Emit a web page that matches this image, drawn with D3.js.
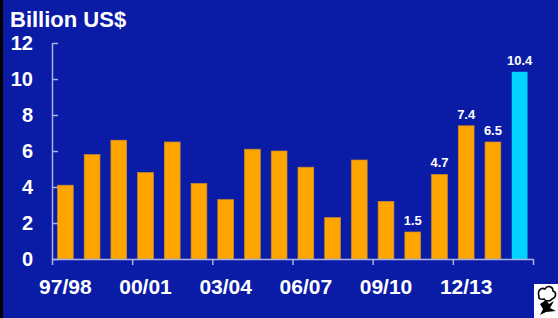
<html>
<head>
  <meta charset="utf-8">
  <title>Billion US$</title>
  <script src="https://d3js.org/d3.v7.min.js"></script>
</head>
<style>
  body { margin: 0; background: #0a1ca6; }
  svg { display: block; }
  text { font-family: 'Liberation Sans', Arial, sans-serif; font-weight: 700; fill: #fff; }
  .axis path, .axis line { stroke: #aab3e3; stroke-width: 1.5; fill: none; }
</style>
<body>
  <div class="chart"></div>
  <script>
    // data
    var seasons = ["97/98","98/99","99/00","00/01","01/02","02/03","03/04","04/05","05/06",
                   "06/07","07/08","08/09","09/10","10/11","11/12","12/13","13/14","14/15"];
    var values = [4.1, 5.8, 6.6, 4.8, 6.5, 4.2, 3.3, 6.1, 6.0, 5.1, 2.3, 5.5, 3.2, 1.5, 4.7, 7.4, 6.5, 10.4];
    var labelled = ["1.5", "4.7", "7.4", "6.5", "10.4"]; // last five bars carry a value label
    var yTicks = [0, 2, 4, 6, 8, 10, 12];
    var xLabels = ["97/98", "00/01", "03/04", "06/07", "09/10", "12/13"];

    var W = 558, H = 318;
    var svg = d3.select('.chart').append('svg')
      .attr('width', W).attr('height', H);

    svg.append("rect").attr("width", W).attr("height", H).attr("fill", "#0a1ca6");
    // black strip down the left edge
    svg.append("rect").attr("width", 3).attr("height", H).attr("fill", "#000");

    var plotLeft = 52, plotRight = 533, plotTop = 43, plotBottom = 259;

    var x = d3.scaleBand().domain(seasons).range([plotLeft, plotRight])
      .paddingInner(0.41).paddingOuter(0.205);
    var xi = d3.scaleLinear().domain([0, seasons.length]).range([plotLeft, plotRight]);
    var y = d3.scaleLinear().domain([0, 12]).range([plotBottom, plotTop]);

    // title
    svg.append("text")
      .attr("x", 10).attr("y", 27)
      .style("font-size", "22px")
      .text("Billion US$");

    // bars
    svg.selectAll(".bar")
      .data(values)
      .enter().append("rect")
        .attr("class", "bar")
        .attr("x", function(d, i) { return x(seasons[i]); })
        .attr("width", x.bandwidth())
        .attr("y", function(d) { return y(d); })
        .attr("height", function(d) { return y(0) - y(d); })
        .attr("fill", function(d, i) { return i == seasons.length - 1 ? "#00d4ff" : "#ffa500"; })
        .attr("stroke", function(d, i) { return i == seasons.length - 1 ? "none" : "#c88a2a"; })
        .attr("stroke-width", 0.7);

    // value labels
    var first = seasons.length - labelled.length;
    svg.selectAll(".val")
      .data(labelled)
      .enter().append("text")
        .attr("class", "val")
        .attr("x", function(d, i) { return x(seasons[first + i]) + x.bandwidth() / 2; })
        .attr("y", function(d, i) { return y(values[first + i]) - 7; })
        .attr("text-anchor", "middle")
        .style("font-size", "13px")
        .text(function(d) { return d; });

    // y axis, ticks pointing inward
    var gy = svg.append("g")
      .attr("class", "axis")
      .attr("transform", "translate(" + plotLeft + ",0)")
      .call(d3.axisLeft(y).tickValues(yTicks).tickSizeInner(-6).tickSizeOuter(0).tickPadding(19));
    gy.selectAll("text")
      .style("font-size", "20px")
      .attr("fill", "#fff");

    // x axis, tick marks between groups of three seasons
    svg.append("g")
      .attr("class", "axis")
      .attr("transform", "translate(0," + plotBottom + ")")
      .call(d3.axisBottom(xi).tickValues(d3.range(0, seasons.length + 1, 3))
        .tickSizeInner(6).tickSizeOuter(0).tickFormat(""));

    svg.selectAll(".xl")
      .data(xLabels)
      .enter().append("text")
        .attr("class", "xl")
        .attr("x", function(d) { return x(d) + x.bandwidth() / 2; })
        .attr("y", 294)
        .attr("text-anchor", "middle")
        .style("font-size", "21px")
        .text(function(d) { return d; });

    // small cotton logo, bottom right
    var logo = svg.append("g").attr("transform", "translate(534,284)");
    logo.append("rect").attr("width", 24).attr("height", 34).attr("fill", "#fff");
    logo.append("path")
      .attr("d", "M5,12 C3,7 7,3 11,5 C13,1 19,2 19,7 C23,8 22,14 18,15 C16,18 11,17 10,15 C6,16 4,14 5,12 Z")
      .attr("fill", "none").attr("stroke", "#000").attr("stroke-width", 1.6);
    logo.append("path")
      .attr("d", "M6,20 L12,16 L15,20 L20,17 L16,24 L22,27 L12,28 L6,31 L9,25 Z")
      .attr("fill", "#000");
  </script>
</body>
</html>
